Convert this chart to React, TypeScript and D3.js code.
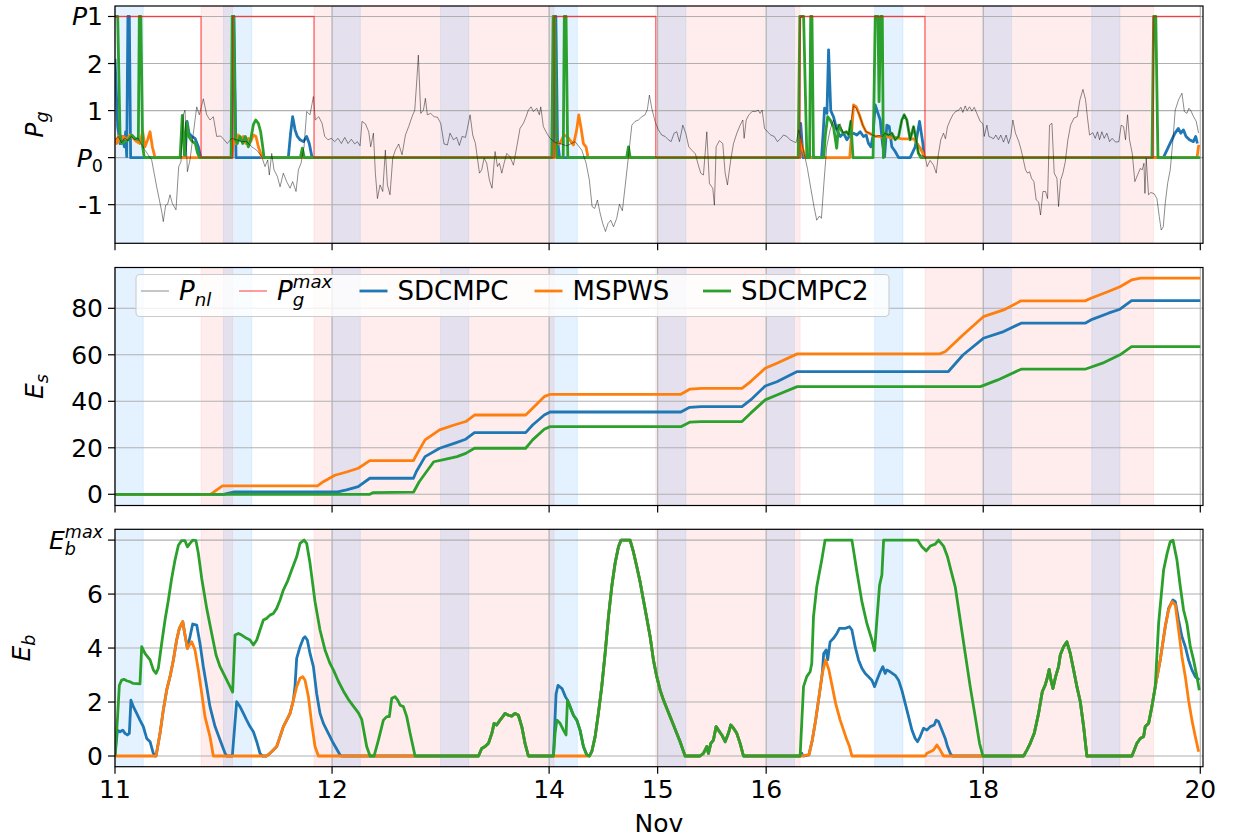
import React from "react";
import * as d3 from "d3";

type Pt = [number, number];

// ---------------- axis data ----------------
const timeDomain: [number, number] = [0, 1002.5];
const dayTickValues = [0, 200, 400, 500, 600, 800, 1000];
const dayTickLabels = ["11", "12", "14", "15", "16", "18", "20"];
const pgTickValues = [-1, 0, 1, 2, 3];
const esTickValues = [0, 20, 40, 60, 80];
const ebTickValues = [0, 2, 4, 6, 8];

// shaded periods
const morningStarts = [0, 100, 200, 300, 400, 500, 600, 700, 800, 900];
const morningLength = 26;
const gridOffStarts = [79.3, 183.4, 498.3, 746.3];
const gridOffEnds = [108.4, 404.6, 631.3, 956.9];
const pgMaxLevel = 3;

// ---------------- P_g panel ----------------
const pnl: Pt[] = [
  [0, 0.38], [3, 0.45], [6, 0.32], [9, 0.42], [12, 0.36], [15, 0.45], [18, 0.38], [21, 0.42], [24, 0.3],
  [27.6, 0.16], [33.8, -0.05], [38.4, -0.62], [40.9, -0.9], [43.3, -1.18], [44.5, -1.36], [46.7, -1.01],
  [48.5, -0.99], [50.7, -0.79], [52.8, -0.97], [56.2, -1.11], [58.7, -0.19], [60.8, -0.09], [63, 0.91],
  [64.5, 1.01], [66.7, -0.3], [69.1, -0.05], [72.2, 0.52], [75.3, 1.08], [77.7, 0.91], [81.4, 1.25],
  [84.5, 0.91], [87.5, 0.8], [90.6, 0.87], [93.7, 0.45], [97.4, 0.46], [100.5, 0.38], [103.5, 0.3],
  [107.5, 0.41], [112.1, 0.38], [116.7, 0.34], [121.3, 0.34], [126, 0.23], [130.5, 0.16], [135.2, 0.02],
  [138.2, -0.19], [140.7, -0.05], [142.2, -0.37], [144.4, 0.09], [146.5, -0.26], [149.6, -0.4],
  [152.1, -0.62], [155.1, -0.33], [158.2, -0.51], [161.3, -0.65], [163.7, -0.51], [166.8, -0.72],
  [169, -0.26], [171.4, -0.12], [174.2, 0.23], [176.6, 0.98], [179.7, 0.91], [182.8, 1.3], [184.6, 0.8],
  [187.7, 0.87], [190.8, 0.73], [193.2, 0.45], [196.3, 0.38], [199.4, 0.41], [202.4, 0.34], [205.5, 0.41],
  [208.6, 0.3], [211.7, 0.43], [214.7, 0.3], [217.8, 0.39], [220.9, 0.29], [223.3, 0.34], [225.8, 0.25],
  [227.6, 0.77], [230.7, 0.72], [233.8, 0.55], [235.6, 0.23], [238.1, 0.52], [239.9, -0.33], [241.8, -0.87],
  [244.2, -0.58], [246.7, -0.72], [249.1, 0.16], [251, -0.58], [253.4, -0.79], [255.9, -0.01], [258.3, 0.16],
  [261.4, 0.29], [264.5, 0.06], [267.6, 0.48], [270.6, 0.66], [273.7, 0.87], [276.2, 1.01], [278.3, 1.72],
  [279.5, 2.18], [281.7, 0.94], [284.2, 1.01], [286, 1.26], [287.8, 0.91], [290.9, 0.94], [294, 0.87],
  [297.1, 0.86], [300.1, 0.73], [303.2, 0.29], [306.3, 0.27], [308.7, 0.52], [311.8, 0.38], [314.8, 0.43],
  [317.3, 0.26], [319.8, 0.45], [322.9, 0.43], [324.7, 0.62], [327.2, 0.91], [329.6, 0.48], [332.1, 0.3],
  [335.8, -0.33], [337.9, -0.26], [340.1, -0.01], [342.5, -0.12], [345, -0.48], [347.4, -0.65], [350.2, 0.13],
  [352.4, -0.19], [354.2, -0.12], [356.4, -0.33], [358.5, -0.12], [361, 0.09], [364, 0.02], [367.1, -0.16],
  [370.2, 0.23], [373.2, 0.62], [376.3, 0.73], [378.8, 0.87], [380.9, 1.01], [383.4, 1.08], [385.5, 0.98],
  [388.6, 1.05], [391, 0.91], [392.3, 1.08], [394.7, 0.66], [397.8, 0.52], [400.9, 0.41], [405.5, 0.32],
  [410.1, 0.3], [416.2, 0.25], [423.9, 0.34], [430.1, 0.16], [434.1, -0.12], [437.1, -0.48], [439.6, -1.04],
  [442, -1.08], [444.5, -0.9], [447, -1.18], [449.4, -1.4], [451.9, -1.57], [454.3, -1.4], [456.8, -1.33],
  [459.3, -1.47], [462.3, -1.29], [464.8, -0.99], [467.5, -1.13], [470, -0.62], [473.1, 0.02], [476.2, 0.69],
  [479.2, 0.77], [482.3, 0.8], [485.4, 0.87], [488.4, 0.91], [490.6, 1.03], [492.4, 1.33], [494.6, 1.05],
  [497.6, 0.77], [500.7, 0.59], [503.8, 0.48], [506.9, 0.45], [509.9, 0.38], [512.4, 0.34], [515.2, 0.52],
  [517.6, 0.55], [520.1, 0.34], [523.2, 0.69], [525.9, 0.52], [528.7, 0.23], [531.8, 0.15], [534.8, 0.08],
  [537, -0.12], [539.7, -0.33], [542.2, -0.37], [545.3, 0.55], [547.7, -0.55], [550.8, -0.65], [552.3, -1.01],
  [553.9, 0.23], [556.9, 0.36], [560, 0.3], [562.2, -0.33], [564.3, -0.58], [567.4, -0.04], [569.9, 0.3],
  [573, 0.52], [576, 0.69], [578.5, 0.8], [579.7, 0.41], [581.6, 0.8], [584, 0.91], [587.1, 0.98],
  [590.2, 0.98], [592.6, 1.01], [594.4, 0.94], [596.3, 1.01], [598.5, 0.62], [601.2, 0.55], [604.3, 0.48],
  [607.4, 0.45], [610.4, 0.34], [613.5, 0.41], [616, 0.48], [619, 0.45], [622.1, 0.38], [625.2, 0.34],
  [627.6, 0.32], [630.1, 0.59], [632.2, 0.38], [635, 0.08], [638, -0.23], [641.1, -0.65], [644.2, -1.06],
  [646.6, -1.33], [649.1, -1.24], [650.9, -1.29], [653.4, -0.48], [655.8, 0.23], [658.9, 0.59], [662, 0.8],
  [665, 0.59], [668.1, 0.72], [671, 0.52], [674, 0.55], [676, 0.48], [678, 0.77], [680.5, 1.1], [683, 1.05],
  [686, 0.9], [689, 0.69], [692, 0.55], [695, 0.52], [698, 0.48], [701, 0.45], [704, 0.47], [707, 0.45],
  [709.5, 0.52], [712.7, 0.48], [715.8, 0.52], [718.9, 0.38], [722, 0.45], [725, 0.8], [727.2, 0.91],
  [729.6, 0.8], [732.7, 0.38], [735.8, 0.66], [738.2, 0.38], [740.3, 0.09], [743, 0.05], [746.5, 0.02],
  [748.3, -0.19], [751.1, -0.06], [754.2, -0.16], [756.7, -0.33], [758.8, 0.09], [760.9, 0.38], [763.4, 0.52],
  [765.2, 0.4], [767.1, 0.66], [769.6, 0.8], [772, 0.91], [774.5, 0.98], [777.5, 1.01], [779.4, 1.07],
  [781.2, 0.96], [783.4, 1.1], [785.2, 1.0], [787.4, 1.08], [789.5, 0.99], [791.7, 1.07], [794.1, 0.94],
  [797.2, 0.77], [799.7, 0.72], [800.9, 0.45], [803.4, 0.69], [805.2, 0.45], [807.3, 0.43], [809.5, 0.4],
  [811.6, 0.48], [814.1, 0.38], [816.2, 0.48], [818.7, 0.33], [821.1, 0.48], [823.3, 0.3], [825.4, 0.45],
  [827.3, 0.8], [829.7, 0.52], [832.8, 0.34], [835, 0.16], [837.1, -0.06], [839, -0.26], [840.8, -0.33],
  [842.7, -0.3], [844.5, -0.44], [846.7, -0.51], [848.8, -0.9], [851, -0.94], [852.8, -1.22], [855, -0.72],
  [857.4, -0.72], [859.3, -0.87], [861.1, 0.69], [863.3, 0.73], [865.4, -0.33], [867.9, -0.44], [869.4, -1.04],
  [871.3, -0.48], [873.4, -0.33], [875.6, -0.09], [878, 0.38], [880.5, 0.69], [883.6, 0.84], [886.6, 0.87],
  [889.1, 1.23], [891.9, 1.45], [894.3, 1.23], [896.1, 0.84], [898, 0.48], [901, 0.53], [903.2, 0.41],
  [905.3, 0.55], [907.2, 0.38], [909.3, 0.55], [911.5, 0.41], [913.9, 0.52], [916.4, 0.34], [918.8, 0.41],
  [921.9, 0.33], [925, 0.34], [927.1, 0.69], [929.3, 0.66], [931.1, 0.38], [933, 0.91], [934.8, 0.38],
  [937.3, 0.09], [939.7, -0.51], [942.2, -0.37], [944.7, -0.23], [946.5, -0.26], [948.1, -0.12], [949, -0.76],
  [950.2, -0.01], [952.3, -0.79], [954.5, -0.74], [957.6, -0.77], [960, -0.87], [962.2, -1.25], [964, -1.54],
  [965.9, -1.47], [967.7, -0.97], [969.9, -0.55], [972.3, -0.26], [974.8, 0.38], [976.9, 1.01], [980, 1.23],
  [983.1, 1.37], [985.3, 0.98], [987.7, 0.94], [989.5, 1.05], [991.7, 0.98], [993.8, 0.87], [996.3, 0.77],
  [998.4, 0.52],
];

const pgSdcmpc: Pt[] = [
  [0, 2.1], [2.5, 0.66], [4.6, 0.3], [6.8, 0.45], [8.6, 0.23], [9.8, 0.55], [10.8, 0.02], [11.9, 3], [13.2, 3],
  [14.4, 0], [64.5, 0], [66.4, 0.77], [68.2, 0.52], [70.7, 0.45], [73.7, 0.41], [76.8, 0.23], [79, 0],
  [107.8, 0], [108.4, 3], [109.6, 3], [111.5, 0], [159.7, 0], [161.8, 0.52], [163.7, 0.87], [165.9, 0.59],
  [168, 0.45], [170.5, 0.38], [173.6, 0.34], [176.6, 0.45], [179, 0.3], [181.6, 0], [404, 0], [404.6, 3],
  [406.2, 3], [407.7, 0.38], [409.6, 0], [631, 0], [631.8, 0.73], [634, 0], [651, 0], [652.5, 0.52],
  [653.8, 1.05], [656, 0.94], [657.5, 2.29], [659.5, 1.0], [662, 0.87], [665.1, 0.59], [668.2, 0.45],
  [671.3, 0.52], [674.4, 0.38], [677.4, 0.48], [680.5, 0.52], [683.6, 0.48], [686.6, 0.55], [689.7, 0.45],
  [692.2, 0.48], [694.3, 0.3], [696.5, 0.23], [698.3, 0.45], [700.5, 1.12], [703.5, 0.91], [705.1, 0.8],
  [707.2, 0.3], [709.1, 0.02], [711.2, 0.69], [713.4, 0.66], [715.8, 0.23], [718.9, 0.13], [722, 0],
  [732.7, 0], [737.3, 0.23], [741.3, 0.77], [744.4, 0.3], [745.6, 0], [966, 0], [973.6, 0.37], [976.7, 0.52],
  [979.7, 0.62], [982, 0.52], [984.4, 0.59], [986.9, 0.45], [990, 0.38], [993.6, 0.34], [995.8, 0.45],
  [997.3, 0.3],
];

const pgMspws: Pt[] = [
  [0, 0.41], [1.5, 0.3], [3.1, 0.45], [5.2, 0.34], [7.7, 0.45], [10.8, 0.38], [13.8, 0.48], [16.9, 0.41],
  [20, 0.34], [23, 0.3], [25.5, 0.55], [27.6, 0.23], [30.1, 0.38], [32.3, 0.55], [34.4, 0.23], [36.9, 0],
  [107.5, 0], [109, 0.38], [111.5, 0.3], [113.7, 0.48], [115.8, 0.38], [118.3, 0.45], [120.7, 0.3],
  [122.9, 0.41], [125, 0.34], [127.5, 0.48], [129.9, 0.45], [132.1, 0.23], [134.2, 0.09], [135.8, 0],
  [404.5, 0], [405, 0.3], [410, 0.3], [413.6, 0.48], [416.7, 0.45], [419, 0.38], [422.4, 0.27], [425.4, 0.59],
  [427.3, 0.91], [429.5, 0.62], [431.6, 0.3], [434, 0.23], [435.9, 0], [631, 0], [631.3, 0.38], [634, 0.16],
  [636, 0], [677, 0], [678.7, 0.52], [680.5, 1.12], [683, 1.08], [686, 0.9], [689, 0.69], [692, 0.55],
  [695, 0.52], [698, 0.48], [701, 0.45], [704, 0.45], [707, 0.43], [711, 0.45], [715, 0.42], [719, 0.43],
  [725, 0.4], [730, 0.4], [736, 0.4], [739, 0.3], [742, 0.2], [745, 0.06], [747, 0], [997, 0], [998.6, 0.27],
];

const pgSdcmpc2: Pt[] = [
  [0, 3], [2.5, 3], [4.6, 0.52], [6.1, 0.3], [9.2, 0.34], [12.3, 0.38], [15.4, 0.48], [18.4, 0.41],
  [21.5, 0.38], [22.4, 3], [23.8, 3], [25.5, 0.23], [27, 0], [60, 0], [62, 0.9], [64, 0.05], [66, 0.75],
  [68, 0.45], [71, 0.35], [74, 0.3], [76, 0.1], [78, 0], [107, 0], [108, 3], [109.3, 3], [110.9, 0.38],
  [112.7, 0.3], [115.2, 0.45], [117.7, 0.3], [120.1, 0.45], [122.9, 0.23], [125, 0.38], [127.5, 0.7],
  [129.6, 0.8], [132.1, 0.73], [134.2, 0.55], [136.1, 0.23], [137.3, 0], [170.8, 0], [172.6, 0.2],
  [174.4, 0], [402.4, 0], [403.7, 3], [405.2, 3], [407, 0], [413, 0], [414, 3], [415.6, 3], [417.2, 0],
  [471.5, 0], [473.1, 0.23], [474.7, 0], [629.5, 0], [631, 3], [634.5, 3], [637.5, 0], [640, 0], [641, 3],
  [642.2, 3], [643.6, 0], [653, 0], [654.6, 0.5], [656.7, 0.87], [659, 0.8], [662, 0.66], [665, 0.2],
  [666.7, 0.69], [669, 0.59], [671, 0.52], [674, 0.55], [676, 0.48], [678, 0.77], [680, 0], [698.5, 0],
  [700.5, 3], [703, 3], [704, 1.19], [705.5, 3], [707, 3], [708, 0], [709.5, 0.52], [712.7, 0.48],
  [715.8, 0.52], [718.9, 0.38], [722, 0.45], [725, 0.8], [727.2, 0.91], [729.6, 0.8], [732.7, 0.38],
  [735.8, 0.66], [738.2, 0.38], [740.3, 0.09], [742.5, 0], [955.5, 0], [957, 3], [959, 3], [961, 0], [1000, 0],
];

// ---------------- E_s panel ----------------
const esSdcmpc: Pt[] = [
  [0, 0], [100, 0], [110, 1.0], [205.3, 1.0], [213.4, 1.9], [224.1, 3.3], [234.8, 6.9], [275, 6.9],
  [277.7, 9.8], [285.7, 16.2], [299.1, 19.8], [312.5, 21.9], [323.2, 23.7], [331.2, 26.5], [378.4, 26.5],
  [384.8, 29.8], [395.5, 34.1], [400.9, 35.4], [521.4, 35.4], [529.5, 37.4], [540.2, 37.7], [577.7, 37.7],
  [585.7, 40.6], [599.1, 46.6], [609.9, 48.4], [628.6, 52.8], [767.9, 52.8], [781.3, 59.9], [800.1, 67.1],
  [818.8, 70], [834.9, 73.6], [893.8, 73.6], [899.2, 75], [915.3, 77.9], [926, 79.6], [936.7, 83.3],
  [1000, 83.3],
];
const esMspws: Pt[] = [
  [0, 0], [88, 0], [99, 3.6], [186.6, 3.6], [191.9, 5.4], [202.6, 8.2], [213.4, 9.6], [224.1, 11.2],
  [234.8, 14.5], [275, 14.5], [277.7, 16.9], [285.7, 23.4], [299.1, 27.7], [312.5, 29.8], [323.2, 31.3],
  [331.2, 34.1], [378.4, 34.1], [384.8, 37], [395.5, 42], [400.9, 43], [521.4, 43], [529.5, 45.2],
  [540.2, 45.6], [577.7, 45.6], [585.7, 48.5], [599.1, 54.2], [609.9, 56.4], [628.6, 60.4], [759.9, 60.4],
  [765.2, 61.4], [781.3, 68.5], [800.1, 76.4], [818.8, 79.3], [834.9, 83.2], [893.8, 83.2], [899.2, 84.3],
  [915.3, 87.2], [926, 89.3], [936.7, 92.2], [945, 93], [1000, 93],
];
const esSdcmpc2: Pt[] = [
  [0, 0], [234.8, 0], [237.5, 0.7], [275, 0.9], [280.3, 5.4], [293.7, 14], [301.8, 14.8], [315.2, 16.2],
  [323.2, 17.6], [331.2, 19.8], [378.4, 19.8], [384.8, 23.4], [395.5, 28], [400.9, 29.1], [521.4, 29.1],
  [529.5, 31], [540.2, 31.3], [577.7, 31.3], [585.7, 34.9], [599.1, 40.6], [609.9, 42.7], [628.6, 46.3],
  [797.4, 46.3], [813.5, 49.2], [834.9, 53.8], [893.8, 53.8], [909.9, 56.4], [926, 60], [936.7, 63.5],
  [1000, 63.5],
];

// ---------------- E_b panel ----------------
const ebCommonA: Pt[] = [
  [334.9, 0], [337.9, 0.28], [341, 0.35], [344.1, 0.47], [347.2, 0.84], [349.3, 1.21], [351.7, 1.15],
  [354.8, 1.33], [357.3, 1.46], [359.4, 1.58], [362.5, 1.51], [365.5, 1.48], [368.6, 1.58], [371.7, 1.51],
  [374.8, 1.09], [377.8, 0.47], [380.9, 0],
];
const ebCommonDischarge417: Pt[] = [
  [416.9, 2.07], [419.3, 1.83], [422.4, 1.51], [425.5, 1.33], [428.5, 0.96], [431.6, 0.35], [434.7, 0.04],
];
const ebCommonB: Pt[] = [
  [437.1, 0], [439.3, 0.16], [442.4, 0.72], [445.4, 1.58], [448.5, 2.57], [451.6, 3.8], [454.7, 5.16],
  [457.7, 6.27], [460.8, 7.14], [463.9, 7.75], [466.3, 8], [474.6, 8], [477.7, 7.56], [480.8, 7.01],
  [483.8, 6.46], [486.9, 5.78], [490, 5.1], [493.1, 4.42], [496.1, 3.56], [499.2, 2.94], [502.3, 2.44],
  [505.4, 2.07], [508.4, 1.77], [511.5, 1.46], [514.6, 1.15], [517.6, 0.84], [520.7, 0.53], [525.3, 0],
  [539.1, 0], [542.2, 0.1], [545.3, 0.35], [546.8, 0.1], [549, 0.47], [551.4, 0.59], [553.9, 1.09],
  [556, 0.96], [559.1, 0.78], [562.2, 0.53], [565.2, 0.84], [567.4, 1.15], [569.9, 1.03], [572.9, 0.84],
  [576, 0.47], [579.1, 0],
];
const ebCommonC: Pt[] = [
  [799.7, 0], [837.2, 0], [840.2, 0.22], [843.3, 0.47], [847, 0.84], [851, 1.58], [854.4, 2.38],
  [857.1, 2.63], [859.3, 2.94], [860.8, 3.21], [862.4, 2.81], [864.2, 2.5], [866.7, 2.94], [869.4, 3.31],
  [871, 3.74], [874, 4.05], [877.1, 4.23], [880.2, 3.8], [883.3, 3.19], [886.3, 2.57], [889.4, 2.02],
  [892.5, 1.09], [895.5, 0], [937, 0], [939.2, 0.22], [941.6, 0.47], [944.7, 0.65], [947.8, 0.72],
  [949.3, 1.09], [952.4, 1.21], [955.4, 1.83], [958.5, 2.57],
];
const ebMspwsEarly: Pt[] = [
  [0, 0], [37.8, 0], [41.5, 0.84], [44.5, 1.7], [47.6, 2.44], [50.7, 2.94], [53.8, 3.56], [56.8, 4.3],
  [59.3, 4.73], [62.4, 4.98], [64.5, 4.48], [66.7, 3.99],
];
const ebMspwsDay2: Pt[] = [
  [139.8, 0], [142.8, 0.1], [145.9, 0.22], [149, 0.35], [152.1, 0.72], [155.1, 1.09], [158.2, 1.33],
  [161.3, 1.58], [164.4, 2.07],
];

const ebSdcmpc: Pt[] = [
  [0, 0], [2.2, 0.96], [4.6, 0.9], [7.1, 0.96], [9.2, 0.84], [11.4, 0.78], [13.2, 0.84], [14.7, 2.07],
  [16.9, 1.83], [20, 1.58], [23, 1.33], [26.1, 1.09], [29.2, 0.65], [32.3, 0.53], [35.3, 0.1], [36.9, 0],
  ...ebMspwsEarly.slice(1),
  [69.1, 4.42], [71.6, 4.89], [75.3, 4.85], [78.3, 4.17], [81.4, 3.31], [84.5, 2.57], [87.5, 1.83],
  [92.2, 1.09], [96.8, 0.59], [101.4, 0.1], [102.9, 0], [108.1, 0], [112.1, 2.01], [115.2, 1.83],
  [118.3, 1.58], [121.3, 1.33], [124.4, 1.09], [127.5, 0.9], [130.6, 0.53], [133.6, 0.1], [135.8, 0],
  ...ebMspwsDay2,
  [165.9, 2.6], [167.4, 3.62], [170.5, 4.05], [173.6, 4.36], [175.1, 4.42], [177.2, 4.3], [179.7, 3.8],
  [182.8, 3.31], [185.8, 2.32], [188.9, 1.58], [192, 1.21], [196.6, 0.84], [201.2, 0.47], [207.4, 0.04],
  [208.9, 0],
  ...ebCommonA,
  [404, 0], [406.4, 2.3], [408.2, 2.62], [411.9, 2.5], [415, 2.2],
  ...ebCommonDischarge417,
  ...ebCommonB,
  [631.3, 0], [632.8, 0.1], [634, 0], [639.4, 0.04], [642.5, 0.59], [645.6, 1.33], [648.7, 2.2],
  [651.7, 3.06], [653, 3.8], [655.2, 3.93], [656.7, 3.56], [658.9, 4.23], [662, 4.36], [665.1, 4.54],
  [667.5, 4.73], [672.8, 4.73], [676.8, 4.79], [679, 4.67], [682, 4.05], [685.1, 3.56], [688.2, 3.25],
  [691.3, 3.06], [694.3, 2.94], [697.4, 2.81], [699.9, 2.57], [702, 2.81], [705.1, 3.12], [707.5, 3.31],
  [709.7, 3.06], [711.2, 3.19], [714.3, 3.12], [718.9, 2.99], [722, 2.81], [725, 2.44], [728.1, 1.95],
  [731.2, 1.46], [734.3, 0.96], [737.3, 0.65], [739.5, 0.53], [741.9, 0.72], [745, 1.03], [748.1, 0.96],
  [751.2, 1.09], [754.8, 1.15], [756.7, 1.33], [758.8, 1.28], [761.9, 0.96], [765, 0.65], [767.1, 0.35],
  [769.6, 0.1], [771.4, 0],
  ...ebCommonC,
  [963.1, 3.56], [967.7, 4.79], [970.8, 5.47], [974.8, 5.78], [977, 5.72], [980, 5.04], [983.1, 4.42],
  [986.2, 4.05], [989.2, 3.56], [992.3, 3.19], [995.4, 2.94], [999.1, 2.81],
];

const ebMspws: Pt[] = [
  ...ebMspwsEarly,
  [68.5, 4.11], [70.7, 4.23], [73.7, 3.93], [76.8, 3.19], [79.9, 2.32], [82.9, 1.46], [87.5, 0.72],
  [90.6, 0],
  ...ebMspwsDay2,
  [167.4, 2.57], [170.5, 2.88], [173, 2.94], [175.1, 2.81], [178.2, 2.2], [181.2, 1.21], [184.3, 0.35],
  [187.4, 0],
  ...ebCommonA,
  [404, 0],
  ...ebCommonB,
  [631.3, 0], [639.4, 0.04], [642.5, 0.59], [645.6, 1.33], [648.7, 2.2], [651.7, 3.06], [654.8, 3.56],
  [657.8, 3.19], [660.9, 2.57], [664, 1.95], [668.2, 1.33], [671.3, 0.96], [674.4, 0.59], [676.8, 0.35],
  [679, 0], [746.5, 0], [748.1, 0.1], [751.2, 0.16], [754.2, 0.22], [757.3, 0.41], [760.4, 0.22],
  [763.4, 0],
  ...ebCommonC,
  [963.1, 3.56], [967.7, 4.79], [970.8, 5.41], [973.9, 5.72], [977, 5.6], [980, 4.67], [983.1, 3.68],
  [986.2, 2.94], [989.2, 2.07], [992.3, 1.33], [995.4, 0.72], [998.5, 0.16],
];

const ebSdcmpc2: Pt[] = [
  [0, 0], [2.2, 1.33], [4, 2.62], [6.1, 2.81], [8.3, 2.84], [10.8, 2.79], [13.8, 2.75], [16.9, 2.69],
  [23, 2.67], [24.6, 4.05], [27.6, 3.8], [32.3, 3.56], [35.3, 3.19], [37.8, 3.06], [39.9, 3.25], [43, 4.17],
  [46.1, 5.04], [49.2, 5.78], [52.2, 6.58], [55.3, 7.26], [58.4, 7.81], [61.4, 7.98], [64.5, 7.98],
  [66.7, 7.75], [69.1, 7.88], [71.6, 8], [74.6, 7.98], [76.8, 7.51], [79.9, 6.58], [84.5, 5.47],
  [89.1, 4.54], [93.1, 3.74], [96.8, 3.31], [101.4, 2.94], [105.4, 2.62], [108.4, 2.37], [110.6, 4.48],
  [113.7, 4.54], [116.7, 4.48], [121.3, 4.36], [124.4, 4.3], [127.5, 4.11], [130.6, 4.3], [133.6, 4.67],
  [136.7, 5.04], [139.8, 5.1], [142.8, 5.22], [145.9, 5.28], [149, 5.47], [152.1, 5.78], [155.1, 6.15],
  [158.8, 6.46], [162.8, 6.89], [167.4, 7.38], [170.5, 7.88], [174.2, 8], [176.6, 7.88], [179.7, 7.14],
  [184.3, 5.72], [188.9, 4.67], [193.5, 3.93], [198.1, 3.43], [201.2, 3.19], [205.8, 2.77], [210.4, 2.41],
  [215, 2.1], [219.6, 1.85], [224.3, 1.6], [227.3, 1.36], [231.9, 0.35], [235, 0], [238.7, 0], [242.7, 0.59],
  [247.3, 1.33], [250.4, 1.46], [252.8, 1.46], [255, 2.14], [258, 2.2], [260.5, 2.07], [262.7, 1.88],
  [265.7, 1.83], [268.8, 1.46], [271.9, 0.84], [276.5, 0],
  ...ebCommonA,
  [404, 0], [405.5, 0.84], [407.1, 1.33], [410.1, 1.21], [413.2, 0.96], [415.6, 0.78],
  ...ebCommonDischarge417,
  ...ebCommonB,
  [631.3, 0], [634.4, 2.57], [637.4, 2.94], [640.5, 3.12], [642, 3.43], [643.6, 5.16], [646.6, 6.27],
  [651.2, 7.26], [654.3, 8], [679, 8], [683.6, 6.83], [688.2, 5.72], [692.8, 4.91], [697.4, 4.3],
  [699.9, 3.9], [702, 5.04], [704.5, 6.33], [706.6, 6.7], [708.2, 8], [739.5, 8], [743.5, 7.75],
  [747.5, 7.6], [751.2, 7.78], [755.8, 7.85], [758.8, 8], [763.4, 7.78], [767.1, 7.38], [770.2, 6.89],
  [774.2, 6.27], [778.8, 5.04], [783.4, 3.8], [788, 2.57], [792.6, 1.46], [796.6, 0.47],
  ...ebCommonC,
  [961.6, 4.91], [966.2, 6.89], [969.4, 7.5], [972.3, 7.94], [974.8, 8], [978.5, 7.26], [981.6, 6.27],
  [984.6, 5.41], [987.7, 4.91], [990.8, 4.05], [993.8, 3.56], [996.9, 2.94], [999.1, 2.44],
];

// ---------------- styling ----------------
const FONT = "'DejaVu Sans', 'Liberation Sans', sans-serif";
const FS = 25;
const FS_SMALL = 17.5;
const C_BLUE = "#1f77b4";
const C_ORANGE = "#ff7f0e";
const C_GREEN = "#2ca02c";
const GRID = "#b0b0b0";
const LEFT = 115;
const RIGHT = 1203;
const TICK = 7;

type PanelDef = {
  key: string;
  top: number;
  bottom: number;
  domain: [number, number];
  ticks: number[];
};

const panelDefs: PanelDef[] = [
  { key: "pg", top: 6, bottom: 243.3, domain: [-1.821, 3.223], ticks: pgTickValues },
  { key: "es", top: 267.5, bottom: 505.5, domain: [-4.82, 97.55], ticks: esTickValues },
  { key: "eb", top: 529.3, bottom: 766.7, domain: [-0.396, 8.4], ticks: ebTickValues },
];

function pgMaxSeries(): Pt[] {
  const pts: Pt[] = [[0, pgMaxLevel]];
  gridOffStarts.forEach((s, i) => {
    const e = gridOffEnds[i];
    pts.push([s, pgMaxLevel], [s, 0], [e, 0], [e, pgMaxLevel]);
  });
  pts.push([1000, pgMaxLevel]);
  return pts;
}

export default function App() {
  const x = d3.scaleLinear().domain(timeDomain).range([LEFT, RIGHT]);

  const renderPanel = (p: PanelDef) => {
    const y = d3.scaleLinear().domain(p.domain).range([p.bottom, p.top]);
    const line = d3.line<Pt>().x((d) => x(d[0])).y((d) => y(d[1]));
    const h = p.bottom - p.top;
    const clipId = `clip-${p.key}`;

    let series: React.ReactNode = null;
    if (p.key === "pg") {
      series = (
        <g clipPath={`url(#${clipId})`} fill="none" strokeLinejoin="round">
          <path d={line(pgSdcmpc) || ""} stroke={C_BLUE} strokeWidth={2.8} />
          <path d={line(pgMspws) || ""} stroke={C_ORANGE} strokeWidth={2.8} />
          <path d={line(pgSdcmpc2) || ""} stroke={C_GREEN} strokeWidth={2.8} />
          <path d={line(pnl) || ""} stroke="#000" strokeOpacity={0.45} strokeWidth={1} />
          <path d={line(pgMaxSeries()) || ""} stroke="#ff0000" strokeOpacity={0.6} strokeWidth={1.3} />
        </g>
      );
    } else if (p.key === "es") {
      series = (
        <g clipPath={`url(#${clipId})`} fill="none" strokeLinejoin="round">
          <path d={line(esSdcmpc) || ""} stroke={C_BLUE} strokeWidth={2.8} />
          <path d={line(esMspws) || ""} stroke={C_ORANGE} strokeWidth={2.8} />
          <path d={line(esSdcmpc2) || ""} stroke={C_GREEN} strokeWidth={2.8} />
        </g>
      );
    } else {
      series = (
        <g clipPath={`url(#${clipId})`} fill="none" strokeLinejoin="round">
          <path d={line(ebSdcmpc) || ""} stroke={C_BLUE} strokeWidth={2.8} />
          <path d={line(ebMspws) || ""} stroke={C_ORANGE} strokeWidth={2.8} />
          <path d={line(ebSdcmpc2) || ""} stroke={C_GREEN} strokeWidth={2.8} />
        </g>
      );
    }

    const tickLabel = (v: number) => {
      if (p.key === "pg" && v === 3)
        return (
          <>
            <tspan fontStyle="italic">P</tspan>1
          </>
        );
      if (p.key === "pg" && v === 0)
        return (
          <>
            <tspan fontStyle="italic">P</tspan>
            <tspan fontSize={FS_SMALL} dy={5}>0</tspan>
          </>
        );
      if (p.key === "eb" && v === 8)
        return (
          <>
            <tspan fontStyle="italic">E</tspan>
            <tspan fontStyle="italic" fontSize={FS_SMALL} dy={6}>b</tspan>
            <tspan fontStyle="italic" fontSize={FS_SMALL} dx={-11} dy={-17}>max</tspan>
          </>
        );
      return v < 0 ? `-${Math.abs(v)}` : `${v}`;
    };

    return (
      <g key={p.key}>
        <defs>
          <clipPath id={clipId}>
            <rect x={LEFT} y={p.top} width={RIGHT - LEFT} height={h} />
          </clipPath>
        </defs>
        <rect x={LEFT} y={p.top} width={RIGHT - LEFT} height={h} fill="#fff" />
        {/* shaded periods */}
        {morningStarts.map((s) => (
          <rect
            key={`m${s}`}
            x={x(s)}
            y={p.top}
            width={x(s + morningLength) - x(s)}
            height={h}
            fill="#1e90ff"
            fillOpacity={0.12}
            stroke="#1e90ff"
            strokeOpacity={0.12}
          />
        ))}
        {gridOffStarts.map((s, i) => (
          <rect
            key={`g${s}`}
            x={x(s)}
            y={p.top}
            width={x(gridOffEnds[i]) - x(s)}
            height={h}
            fill="#ff0000"
            fillOpacity={0.07}
            stroke="#ff0000"
            strokeOpacity={0.07}
          />
        ))}
        {/* grid */}
        {p.ticks.map((v) => (
          <line key={`hy${v}`} x1={LEFT} x2={RIGHT} y1={y(v)} y2={y(v)} stroke={GRID} strokeWidth={1.1} />
        ))}
        {dayTickValues.map((v) => (
          <line key={`vx${v}`} x1={x(v)} x2={x(v)} y1={p.top} y2={p.bottom} stroke={GRID} strokeWidth={1.1} />
        ))}
        {series}
        {/* frame */}
        <rect x={LEFT} y={p.top} width={RIGHT - LEFT} height={h} fill="none" stroke="#000" strokeWidth={1.2} />
        {/* y ticks */}
        {p.ticks.map((v) => (
          <g key={`yt${v}`}>
            <line x1={LEFT - TICK} x2={LEFT} y1={y(v)} y2={y(v)} stroke="#000" strokeWidth={1.2} />
            <text x={LEFT - TICK - 5} y={y(v)} dy="0.36em" textAnchor="end" fontSize={FS}>
              {tickLabel(v)}
            </text>
          </g>
        ))}
        {/* x ticks */}
        {dayTickValues.map((v, i) => (
          <g key={`xt${v}`}>
            <line x1={x(v)} x2={x(v)} y1={p.bottom} y2={p.bottom + TICK} stroke="#000" strokeWidth={1.2} />
            {p.key === "eb" && (
              <text x={x(v)} y={p.bottom + 31} textAnchor="middle" fontSize={FS}>
                {dayTickLabels[i]}
              </text>
            )}
          </g>
        ))}
      </g>
    );
  };

  // legend
  const legendItems = [
    { key: "pnl", color: "#000", opacity: 0.45, width: 1, tx: 179 },
    { key: "pgmax", color: "#ff0000", opacity: 0.6, width: 1.3, tx: 277 },
    { key: "SDCMPC", color: C_BLUE, opacity: 1, width: 2.8, tx: 397.5 },
    { key: "MSPWS", color: C_ORANGE, opacity: 1, width: 2.8, tx: 572.5 },
    { key: "SDCMPC2", color: C_GREEN, opacity: 1, width: 2.8, tx: 741 },
  ];
  const legendLabel = (k: string) => {
    if (k === "pnl")
      return (
        <>
          <tspan fontStyle="italic">P</tspan>
          <tspan fontStyle="italic" fontSize={18.2} dy={6}>nl</tspan>
        </>
      );
    if (k === "pgmax")
      return (
        <>
          <tspan fontStyle="italic">P</tspan>
          <tspan fontStyle="italic" fontSize={18.2} dy={6}>g</tspan>
          <tspan fontStyle="italic" fontSize={18.2} dx={-11.5} dy={-18}>max</tspan>
        </>
      );
    return k;
  };

  return (
    <svg
      width={1236}
      height={839}
      style={{ position: "absolute", left: 0, top: 0, background: "#fff" }}
      fontFamily={FONT}
    >
      <rect x={0} y={0} width={1236} height={839} fill="#fff" />
      {panelDefs.map(renderPanel)}

      {/* legend */}
      <g>
        <rect x={136} y={274.5} width={753} height={42} rx={4} fill="#fff" fillOpacity={0.8} stroke="#cccccc" strokeWidth={1.1} />
        {legendItems.map((it) => (
          <g key={it.key}>
            <line
              x1={it.tx - 38}
              x2={it.tx - 10}
              y1={291}
              y2={291}
              stroke={it.color}
              strokeOpacity={it.opacity}
              strokeWidth={it.width}
            />
            <text x={it.tx} y={300} fontSize={26}>
              {legendLabel(it.key)}
            </text>
          </g>
        ))}
      </g>

      {/* axis labels */}
      <text transform="translate(43,124.6) rotate(-90)" textAnchor="middle" fontSize={FS}>
        <tspan fontStyle="italic">P</tspan>
        <tspan fontStyle="italic" fontSize={FS_SMALL} dy={5}>g</tspan>
      </text>
      <text transform="translate(43,386.5) rotate(-90)" textAnchor="middle" fontSize={FS}>
        <tspan fontStyle="italic">E</tspan>
        <tspan fontStyle="italic" fontSize={FS_SMALL} dy={5}>s</tspan>
      </text>
      <text transform="translate(30,648) rotate(-90)" textAnchor="middle" fontSize={FS}>
        <tspan fontStyle="italic">E</tspan>
        <tspan fontStyle="italic" fontSize={FS_SMALL} dy={5}>b</tspan>
      </text>
      <text x={(LEFT + RIGHT) / 2} y={832} textAnchor="middle" fontSize={FS}>
        Nov
      </text>
    </svg>
  );
}
